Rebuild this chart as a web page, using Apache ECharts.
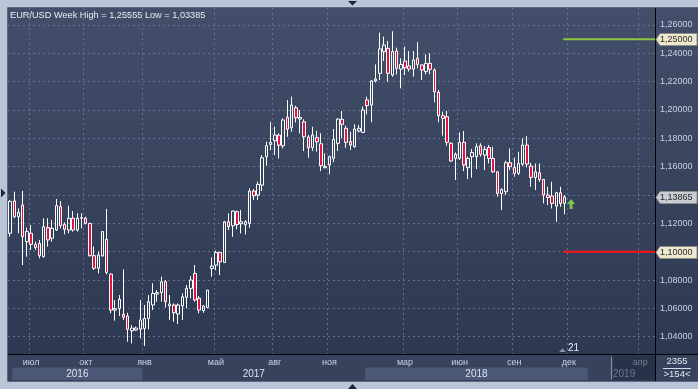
<!DOCTYPE html>
<html><head><meta charset="utf-8">
<script src="https://cdn.jsdelivr.net/npm/echarts@6/dist/echarts.min.js"></script>
<style>html,body{margin:0;padding:0;background:#bac5d7;overflow:hidden}#c{width:698px;height:389px}</style>
</head><body><div id="c"></div>
<script>
// ---- data (weekly EUR/USD candles) ----
const opens = [1.1130,1.1358,1.1247,1.1330,1.1071,1.1130,1.1052,1.1059,1.0965,1.1170,
1.1095,1.1153,1.1318,1.1193,1.1153,1.1236,1.1153,1.1236,1.1236,1.1200,
1.0972,1.0883,1.0970,1.1087,1.0842,1.0588,1.0598,1.0558,1.0546,1.0442,
1.0447,1.0454,1.0459,1.0529,1.0624,1.0701,1.0711,1.0788,1.0617,1.0624,
1.0560,1.0617,1.0678,1.0741,1.0847,1.0671,1.0584,1.0607,1.0882,1.0905,
1.0995,1.0924,1.1211,1.1183,1.1282,1.1197,1.1192,1.1199,1.1428,1.1400,
1.1470,1.1670,1.1757,1.1783,1.1823,1.1748,1.1948,1.1875,1.2016,1.1936,
1.1917,1.1809,1.1734,1.1805,1.1762,1.1593,1.1612,1.1659,1.1765,1.1934,
1.1871,1.1776,1.1741,1.1852,1.1842,1.2071,1.2035,1.2205,1.2259,1.2412,
1.2435,1.2247,1.2416,1.2289,1.2346,1.2311,1.2289,1.2365,1.2318,1.2271,
1.2329,1.2282,1.2125,1.1960,1.1953,1.1765,1.1659,1.1659,1.1772,1.1593,
1.1671,1.1671,1.1748,1.1682,1.1736,1.1658,1.1564,1.1411,1.1423,1.1628,
1.1595,1.1553,1.1618,1.1753,1.1604,1.1524,1.1557,1.1510,1.1400,1.1393,
1.1322,1.1416,1.1341];
const highs = [1.1365,1.1424,1.1306,1.1429,1.1170,1.1189,1.1071,1.1083,1.1236,1.1236,
1.1224,1.1372,1.1358,1.1207,1.1325,1.1287,1.1271,1.1271,1.1247,1.1200,
1.1036,1.1000,1.1146,1.1302,1.0845,1.0659,1.0694,1.0875,1.0569,1.0482,
1.0471,1.0659,1.0624,1.0694,1.0777,1.0729,1.0824,1.0800,1.0694,1.0635,
1.0635,1.0706,1.0765,1.0828,1.0906,1.0687,1.0624,1.0730,1.0960,1.1007,
1.0998,1.1216,1.1270,1.1290,1.1290,1.1294,1.1223,1.1447,1.1442,1.1494,
1.1682,1.1776,1.1917,1.1882,1.1835,1.1941,1.2070,1.2094,1.2030,1.2000,
1.1934,1.1824,1.1882,1.1852,1.1835,1.1694,1.1678,1.1866,1.1941,1.1993,
1.1889,1.1847,1.1899,1.1894,1.2024,1.2094,1.2212,1.2322,1.2546,1.2518,
1.2487,1.2556,1.2440,1.2365,1.2447,1.2416,1.2416,1.2478,1.2322,1.2393,
1.2400,1.2294,1.2141,1.1988,1.1993,1.1772,1.1701,1.1842,1.1852,1.1671,
1.1725,1.1765,1.1765,1.1745,1.1753,1.1741,1.1570,1.1447,1.1642,1.1729,
1.1665,1.1705,1.1800,1.1816,1.1628,1.1623,1.1623,1.1510,1.1458,1.1494,
1.1423,1.1458,1.1400];
const lows = [1.1106,1.1236,1.1130,1.0906,1.0965,1.1012,1.1012,1.0953,1.0958,1.1036,
1.1071,1.1146,1.1165,1.1123,1.1130,1.1142,1.1142,1.1165,1.1193,1.0965,
1.0871,1.0847,1.0965,1.0840,1.0565,1.0513,1.0546,1.0518,1.0365,1.0353,
1.0440,1.0388,1.0334,1.0452,1.0588,1.0647,1.0647,1.0607,1.0518,1.0506,
1.0489,1.0518,1.0600,1.0671,1.0647,1.0565,1.0569,1.0600,1.0824,1.0870,
1.0835,1.0924,1.1152,1.1105,1.1159,1.1129,1.1122,1.1169,1.1364,1.1364,
1.1428,1.1607,1.1717,1.1682,1.1658,1.1729,1.1811,1.1847,1.1912,1.1835,
1.1710,1.1664,1.1711,1.1706,1.1569,1.1588,1.1546,1.1631,1.1711,1.1800,
1.1734,1.1718,1.1734,1.1842,1.1842,1.1969,1.1913,1.2195,1.2212,1.2346,
1.2200,1.2235,1.2252,1.2153,1.2247,1.2271,1.2235,1.2294,1.2212,1.2252,
1.2252,1.2054,1.1913,1.1819,1.1748,1.1635,1.1506,1.1647,1.1569,1.1513,
1.1522,1.1583,1.1671,1.1576,1.1623,1.1557,1.1388,1.1294,1.1400,1.1576,
1.1529,1.1541,1.1604,1.1595,1.1458,1.1435,1.1494,1.1341,1.1329,1.1305,
1.1211,1.1317,1.1265];
const closes = [1.1355,1.1247,1.1278,1.1106,1.1142,1.1052,1.1029,1.0972,1.1177,1.1083,
1.1165,1.1325,1.1184,1.1158,1.1236,1.1153,1.1236,1.1240,1.1200,1.0972,
1.0883,1.0977,1.1142,1.0854,1.0588,1.0598,1.0664,1.0537,1.0452,1.0461,
1.0461,1.0518,1.0529,1.0647,1.0706,1.0711,1.0788,1.0647,1.0631,1.0569,
1.0624,1.0682,1.0741,1.0800,1.0659,1.0588,1.0617,1.0729,1.0899,1.0995,
1.0929,1.1211,1.1176,1.1287,1.1192,1.1211,1.1211,1.1428,1.1395,1.1475,
1.1663,1.1748,1.1771,1.1823,1.1752,1.1929,1.1865,1.2035,1.1945,1.1948,
1.1811,1.1734,1.1824,1.1776,1.1607,1.1602,1.1671,1.1793,1.1936,1.1899,
1.1772,1.1753,1.1866,1.1871,1.2000,1.2031,1.2205,1.2219,1.2431,1.2459,
1.2259,1.2412,1.2294,1.2322,1.2299,1.2289,1.2353,1.2322,1.2282,1.2329,
1.2287,1.2129,1.1960,1.1941,1.1772,1.1640,1.1687,1.1772,1.1612,1.1659,
1.1700,1.1741,1.1687,1.1722,1.1658,1.1564,1.1411,1.1440,1.1628,1.1600,
1.1553,1.1623,1.1753,1.1618,1.1524,1.1564,1.1510,1.1400,1.1383,1.1341,
1.1416,1.1341,1.13865];

const slotCount = 154;                       // bars visible on the axis (>154<)
const monthTickIdx = [5,18,32,49,63,76,94,107,120,133,150];
const monthTickLabels = ['июл','окт','янв','май','авг','ноя','мар','июн','сен','дек','апр'];
const futureFrom = 144;                      // greyed (future) part of the time axis
const yearLabels = ['2016','2017','2018','2019'];
const yearFrom = [1,32,85,144];
const yearTo   = [32,85,138,154];
const yearHighlight = [true,false,true,false];
const levelHigh = 1.25, levelLow = 1.10, lastPrice = 1.13865;
const levelStartIdx = 132;
const signalIdx = 134, signalPrice = 1.1336;
const yMin = 1.0278, yMax = 1.272, yStep = 0.02;
const titleText = 'EUR/USD Week High = 1,25555 Low = 1,03385';

// ---- layout ----
const W = 698, H = 389;
const gL = 8, gT = 8, gR = 655, gB = 354, barBottom = 381;
const FONT = 'Liberation Sans, Arial, sans-serif';
const cats = Array.from({length: slotCount}, (_, i) => String(i));
const candles = opens.map((o, i) => [o, closes[i], lows[i], highs[i]]);
const fmt = v => v.toFixed(5).replace('.', ',');
const gridStyle = {color: '#63718f', type: [2, 3], width: 1};

const chart = echarts.init(document.getElementById('c'), null, {renderer: 'canvas', width: W, height: H});
chart.setOption({
  animation: false,
  backgroundColor: 'transparent',
  grid: {left: gL, top: gT, right: W - gR, bottom: H - gB},
  xAxis: {
    type: 'category', data: cats, boundaryGap: true,
    axisLine: {show: false}, axisTick: {show: false},
    axisLabel: {
      interval: (i) => monthTickIdx.indexOf(i) >= 0,
      formatter: (v, i) => {
        const k = monthTickIdx.indexOf(i);
        if (k < 0) return '';
        return i >= futureFrom ? '{f|' + monthTickLabels[k] + '}' : monthTickLabels[k];
      },
      color: '#c9d2e4', fontSize: 9, fontFamily: FONT, margin: 4,
      rich: {f: {color: '#737e94', fontSize: 9, fontFamily: FONT}}
    },
    splitLine: {show: true, interval: (i) => monthTickIdx.indexOf(i) >= 0, lineStyle: gridStyle}
  },
  yAxis: {
    type: 'value', position: 'right', min: yMin, max: yMax,
    minInterval: yStep, maxInterval: yStep,
    axisLine: {show: false}, axisTick: {show: false},
    axisLabel: {
      showMinLabel: false, showMaxLabel: false, margin: 5,
      color: '#c9d2e4', fontSize: 9, fontFamily: FONT, align: 'left',
      formatter: v => (Math.abs(v - 1.14) < 1e-6 || Math.abs(v - 1.10) < 1e-6) ? '' : fmt(v)
    },
    splitLine: {show: true, showMinLine: false, showMaxLine: false, lineStyle: gridStyle}
  },
  series: [{
    type: 'candlestick', data: candles, barWidth: 3,
    itemStyle: {color: 'rgba(0,0,0,0)', color0: '#e3123f', borderColor: '#ffffff', borderColor0: '#ffffff', borderWidth: 1},
    markPoint: {
      silent: true, label: {show: false},
      data: [{coord: [String(signalIdx), signalPrice], symbol: 'path://M4,0 L8,5 L5.5,5 L5.5,10 L2.5,10 L2.5,5 L0,5 Z',
              symbolSize: [8, 10], symbolOffset: [-2, 0], itemStyle: {color: '#7cc84a'}}]
    }
  }]
});

const px = c => chart.convertToPixel({xAxisIndex: 0}, String(c));
const py = v => chart.convertToPixel({yAxisIndex: 0}, v);
const bw = px(1) - px(0);
const edge = k => px(0) + (k - 0.5) * bw;

const G = [];
// backgrounds
G.push({type: 'rect', z: -20, silent: true, shape: {x: gL, y: gT, width: W - gL, height: gB - gT},
  style: {fill: new echarts.graphic.LinearGradient(0, 0, 0, 1, [{offset: 0, color: '#434f6a'}, {offset: 1, color: '#2d3852'}])}});
G.push({type: 'rect', z: -20, silent: true, shape: {x: gL, y: gB, width: W - gL, height: barBottom - gB},
  style: {fill: '#37435d'}});
for (let i = 0; i < yearLabels.length; i++) {
  const x0 = edge(yearFrom[i]), x1 = Math.min(edge(yearTo[i]), gR);
  if (yearHighlight[i]) {
    G.push({type: 'rect', z: -15, silent: true, shape: {x: x0, y: 367.5, width: x1 - x0, height: 12.5}, style: {fill: '#4a5875'}});
  }
}
// future part of the time axis
const fx = edge(futureFrom);
G.push({type: 'rect', z: -14, silent: true, shape: {x: fx, y: gB + 1.5, width: gR - fx, height: barBottom - gB - 2}, style: {fill: '#27324b'}});
G.push({type: 'line', z: -13, silent: true, shape: {x1: fx - 1.5, y1: gB + 3, x2: fx - 1.5, y2: barBottom - 2}, style: {stroke: '#8a94a8', lineWidth: 1}});
for (let i = 0; i < yearLabels.length; i++) {
  const future = yearFrom[i] >= futureFrom;
  const x0 = edge(yearFrom[i]), x1 = Math.min(edge(yearTo[i]), gR);
  G.push({type: 'text', z: 50, silent: true, x: future ? x0 : (x0 + x1) / 2, y: 374.5,
    style: {text: yearLabels[i], fill: future ? '#6e798f' : '#dde3ee', fontSize: 10, fontFamily: FONT,
      align: future ? 'left' : 'center', verticalAlign: 'middle'}});
}
// frame lines
G.push({type: 'line', z: 60, silent: true, shape: {x1: gR + 0.5, y1: gT, x2: gR + 0.5, y2: barBottom}, style: {stroke: '#000000', lineWidth: 1}});
G.push({type: 'line', z: 60, silent: true, shape: {x1: gL, y1: gB + 0.5, x2: W, y2: gB + 0.5}, style: {stroke: '#000000', lineWidth: 1}});
G.push({type: 'rect', z: 60, silent: true, shape: {x: gL - 0.5, y: gT - 0.5, width: W - gL + 1, height: barBottom - gT + 1}, style: {fill: null, stroke: '#5e6a82', lineWidth: 1}});
// level lines (from the last bar to the price scale)
const lx0 = px(levelStartIdx) - 1.5;
G.push({type: 'line', z: 40, silent: true, shape: {x1: lx0, y1: py(levelHigh), x2: gR, y2: py(levelHigh)}, style: {stroke: '#8cc63e', lineWidth: 2}});
G.push({type: 'line', z: 40, silent: true, shape: {x1: lx0, y1: py(levelLow), x2: gR, y2: py(levelLow)}, style: {stroke: '#ff1010', lineWidth: 2}});
// price tags
function tag(v, fill) {
  const y = Math.round(py(v)) + 0.5;
  G.push({type: 'polygon', z: 70, silent: true,
    shape: {points: [[gR + 1, y], [gR + 5, y - 6], [W - 1, y - 6], [W - 1, y + 6], [gR + 5, y + 6]]},
    style: {fill: fill, stroke: '#8e8e86', lineWidth: 1}});
  G.push({type: 'text', z: 71, silent: true, x: gR + 5, y: y,
    style: {text: fmt(v), fill: '#2a2a2a', fontSize: 9, fontFamily: FONT, align: 'left', verticalAlign: 'middle'}});
}
tag(levelHigh, '#ede8cf');
tag(levelLow, '#ede8cf');
tag(lastPrice, '#c9ccd3');
// title
G.push({type: 'text', z: 80, silent: true, x: 10, y: 15.5,
  style: {text: titleText, fill: '#e8ecf4', fontSize: 9.2, fontFamily: FONT, align: 'left', verticalAlign: 'middle'}});
// bar counter box
G.push({type: 'text', z: 80, silent: true, x: 677, y: 361.5, style: {text: '2355', fill: '#e0e6f0', fontSize: 9.5, fontFamily: FONT, align: 'center', verticalAlign: 'middle'}});
G.push({type: 'line', z: 80, silent: true, shape: {x1: 663, y1: 368.5, x2: 691, y2: 368.5}, style: {stroke: '#d5dbe6', lineWidth: 1}});
G.push({type: 'text', z: 80, silent: true, x: 677, y: 374.5, style: {text: '>154<', fill: '#e0e6f0', fontSize: 9.5, fontFamily: FONT, align: 'center', verticalAlign: 'middle'}});
// "21" marker near the last bar
G.push({type: 'polygon', z: 80, silent: true, shape: {points: [[559, 352], [562.5, 348.5], [566, 352]]}, style: {fill: '#8a93a6'}});
G.push({type: 'text', z: 80, silent: true, x: 568, y: 348.5, style: {text: '21', fill: '#e8edf5', fontSize: 10, fontFamily: FONT, align: 'left', verticalAlign: 'middle'}});
// window handles
G.push({type: 'polygon', z: 80, silent: true, shape: {points: [[348, 1], [357, 1], [352.5, 5.5]]}, style: {fill: '#1d2536'}});
G.push({type: 'polygon', z: 80, silent: true, shape: {points: [[348, 389], [357, 389], [352.5, 384]]}, style: {fill: '#1d2536'}});
G.push({type: 'polygon', z: 80, silent: true, shape: {points: [[1, 188.5], [1, 197.5], [5.5, 193]]}, style: {fill: '#1d2536'}});

chart.setOption({graphic: G});
</script>
</body></html>
